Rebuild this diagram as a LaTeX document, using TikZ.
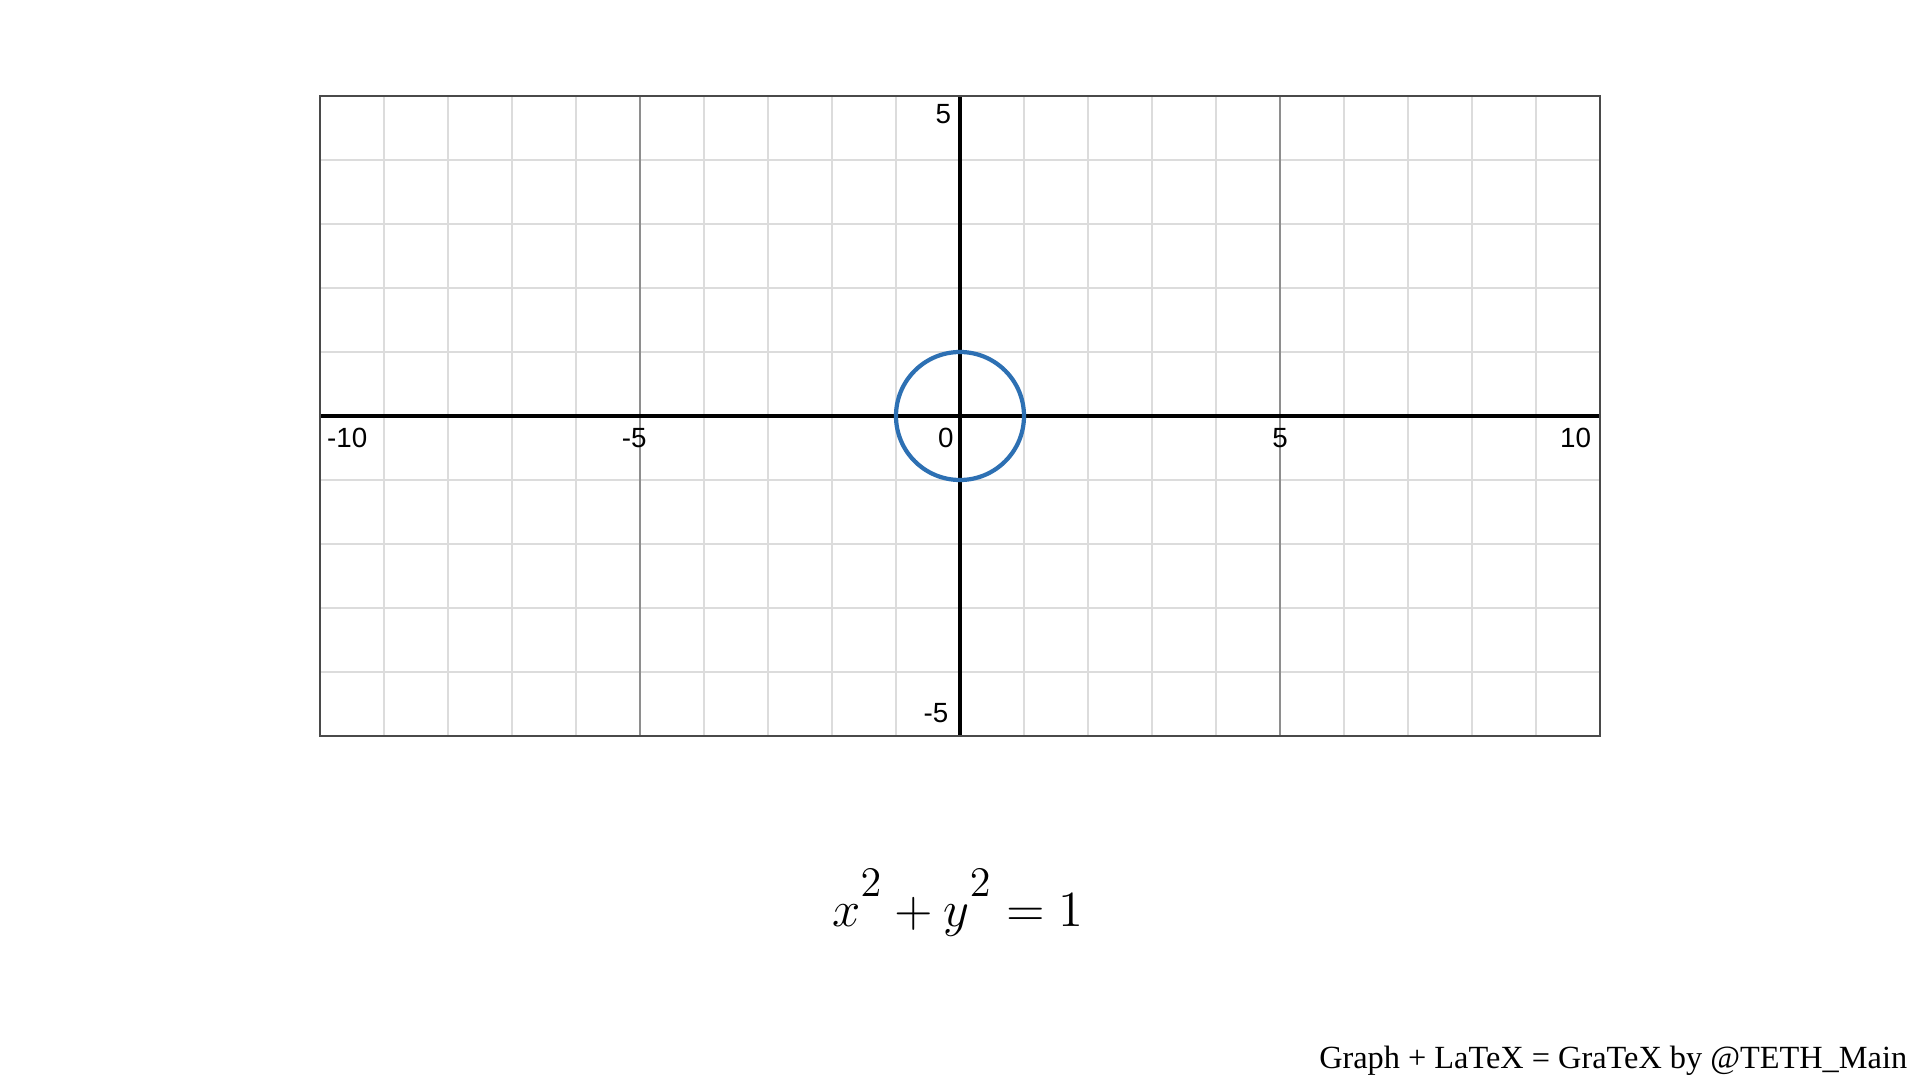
\documentclass[tikz,border=0pt]{standalone}
\usepackage{fontspec}
\setmainfont{Latin Modern Roman}
\newfontfamily\axisfont{Liberation Sans}
\newfontfamily\footfont{Liberation Serif}
\DeclareMathSizes{15.5}{15.5}{12.8}{10}
\definecolor{minorgrid}{HTML}{DCDCDC}
\definecolor{majorgrid}{HTML}{8E8E8E}
\definecolor{boxcol}{HTML}{4A4A4A}
\definecolor{curveblue}{HTML}{2D70B3}
\begin{document}
\begin{tikzpicture}[x=0.64cm,y=0.64cm,
  axislabel/.style={font=\axisfont\fontsize{7.9pt}{9pt}\selectfont, inner sep=0pt},
  minorline/.style={draw=minorgrid, line width=0.45pt},
  majorline/.style={draw=majorgrid, line width=0.45pt},
  axisline/.style={draw=black, line width=1.0pt},
  frame/.style={draw=boxcol, line width=0.6pt},
  curve/.style={draw=curveblue, line width=1.2pt}]
\useasboundingbox[fill=white] (-15,-10.375) rectangle (15,6.5);
% minor grid
\foreach \i in {-9,...,9} {\draw[minorline] (\i,-5) -- (\i,5);}
\foreach \j in {-4,...,4} {\draw[minorline] (-10,\j) -- (10,\j);}
% major grid
\foreach \i in {-5,5} {\draw[majorline] (\i,-5) -- (\i,5);}
% axes
\draw[axisline] (-10,0) -- (10,0);
\draw[axisline] (0,-5) -- (0,5);
% frame
\draw[frame] (-10,-5) rectangle (10,5);
% curve
\draw[curve] (0,0) circle (1);
% labels
\node[axislabel, anchor=west] (xm10) at (-9.9,-0.35) {-10};
\node[axislabel] (xm5) at (-5.09,-0.35) {-5};
\node[axislabel] (x0) at (-0.22,-0.35) {0};
\node[axislabel] (x5) at (5.0,-0.35) {5};
\node[axislabel, anchor=east] (x10) at (9.87,-0.35) {10};
\node[axislabel, anchor=east] (y5) at (-0.13,4.72) {5};
\node[axislabel, anchor=east] (ym5) at (-0.17,-4.64) {-5};
% equation
\node[font=\fontsize{15.5pt}{18pt}\selectfont, inner sep=0pt] (eq) at (-0.03,-7.61) {$x^{\raisebox{0.22em}{$\scriptstyle 2$}}+y^{\raisebox{0.22em}{$\scriptstyle 2$}}=1$};
% footer
\node[font=\footfont\fontsize{9.2pt}{11pt}\selectfont, anchor=base east, inner sep=0pt] (foot) at (14.81,-10.19) {Graph + LaTeX = GraTeX by @TETH\_Main};
\end{tikzpicture}
\end{document}
